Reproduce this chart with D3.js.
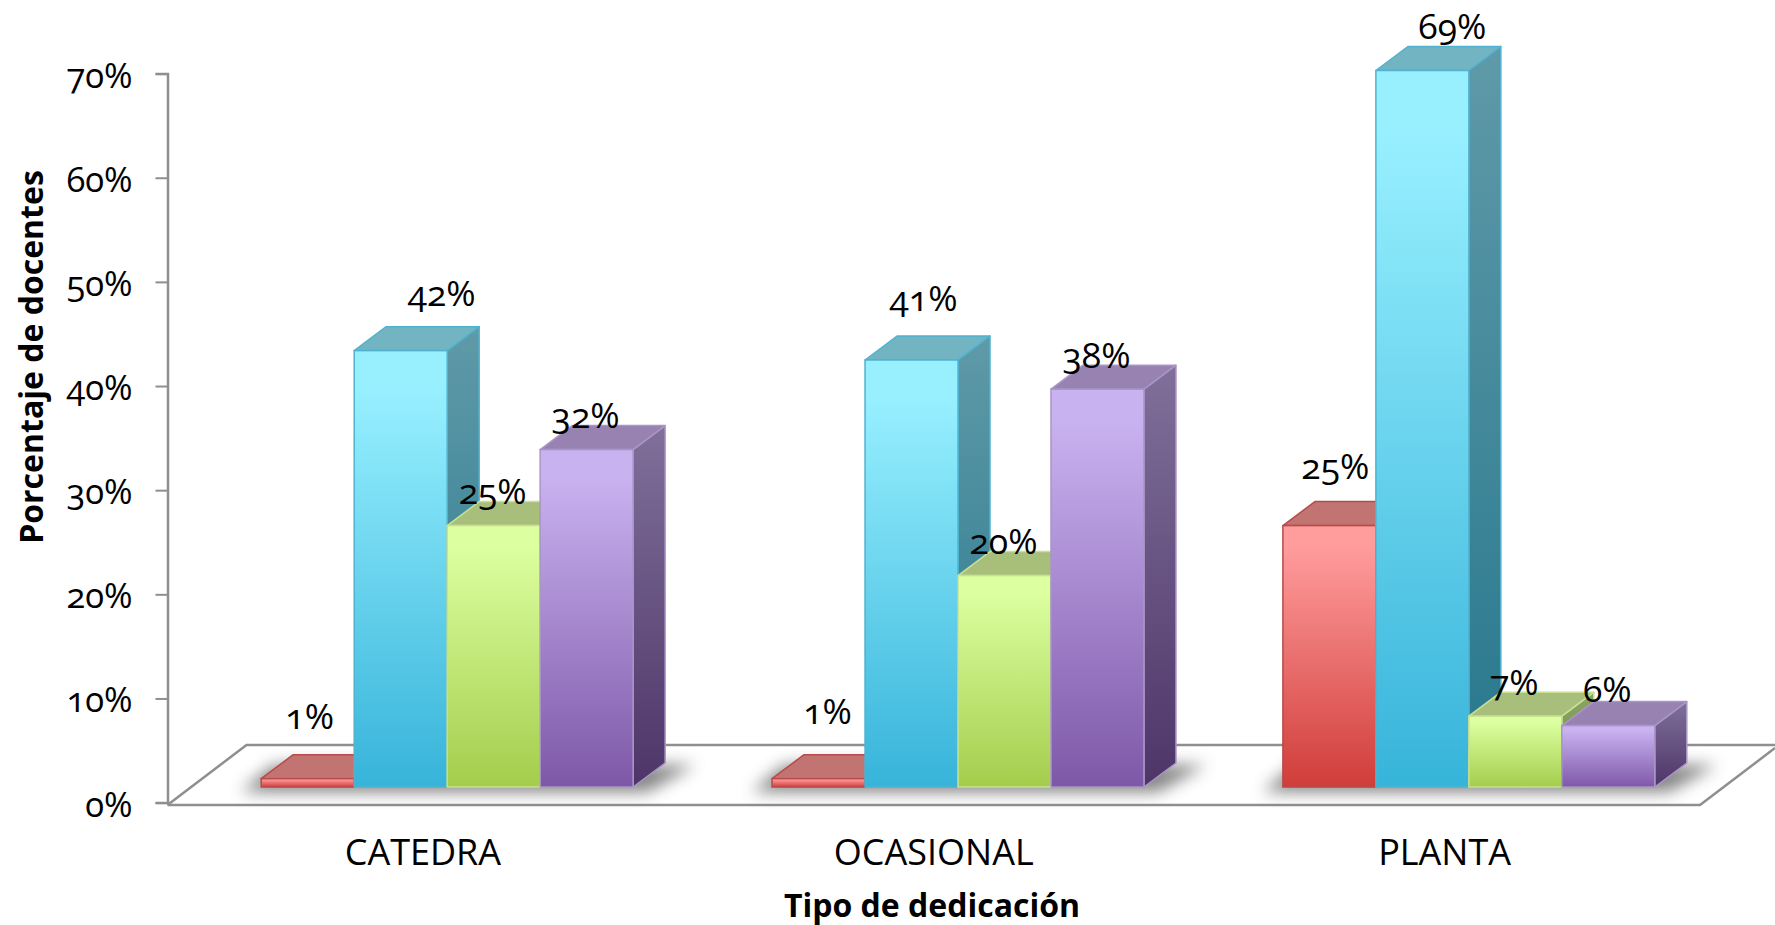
<!DOCTYPE html>
<html><head><meta charset="utf-8">
<script src="https://cdn.jsdelivr.net/npm/d3@7"></script>
<style>
html,body{margin:0;padding:0;background:#fff;overflow:hidden}
text{font-family:"Open Sans",sans-serif;font-variant-numeric:oldstyle-nums;font-feature-settings:"onum";fill:#000}
</style></head><body><svg id="c" width="1775" height="925"></svg>
<script>
const categories = ["CATEDRA","OCASIONAL","PLANTA"];
const seriesNames = ["s1","s2","s3","s4"];
// bar heights; labels show them rounded
const s1 = [0.8,0.8,25.1];
const s2 = [41.9,41,68.8];
const s3 = [25.1,20.3,6.8];
const s4 = [32.4,38.2,5.9];
const seriesValues = [s1,s2,s3,s4];
const yTicks = [0,10,20,30,40,50,60,70];

// colours: [front top, front bottom, stroke, top face, side top, side bottom]
const palette = [
 ["#ff9c9c","#d03d3a","#b84a48","#c27473","#a85654","#7d2c2a"],
 ["#98f0ff","#37b4da","#4fb3d0","#72b4c2","#5f9aa8","#27778d"],
 ["#dcffa0","#a4cd4c","#c8e094","#a7bf7a","#8ba566","#6f8a45"],
 ["#c9b2f0","#7e58a8","#a995c6","#9882b1","#80709a","#4e3568"]
];
const M = {axisX:167.5, floorR:1700, y0:802.6, y70:73.6, floorFront:805, floorBack:745, floorDx:79, floorRightEnd:1775,
           barLift:15.6, depthX:32, depthY:24};
const labelOffsets = [ // nudges from the default label seat, per series then category
 [[3,-28],[10,-33],[7,-25]],
 [[42,-23],[13,-28],[31,-10]],
 [[0,0],[0,0],[0,0]],
 [[0,0],[0,0],[0,-2]]
];

const svg = d3.select("#c");
const defs = svg.append("defs");
const y = d3.scaleLinear().domain([0,70]).range([M.y0,M.y70]);
const x0 = d3.scaleBand().domain(categories).range([M.axisX,M.floorR]);
const groupW = x0.bandwidth();
const x1 = d3.scaleBand().domain(seriesNames).range([groupW*0.1835,groupW*0.9115]);
const barW = x1.bandwidth();
const barY = v => y(v)-M.barLift;

palette.forEach((p,i)=>{
  const f = defs.append("linearGradient").attr("id","f"+i).attr("x1",0).attr("y1",0).attr("x2",0).attr("y2",1);
  f.append("stop").attr("offset","0").attr("stop-color",p[0]);
  f.append("stop").attr("offset","0.08").attr("stop-color",p[0]);
  f.append("stop").attr("offset","1").attr("stop-color",p[1]);
  const s = defs.append("linearGradient").attr("id","s"+i).attr("x1",0).attr("y1",0).attr("x2",0).attr("y2",1);
  s.append("stop").attr("offset","0").attr("stop-color",p[4]);
  s.append("stop").attr("offset","1").attr("stop-color",p[5]);
});
defs.append("filter").attr("id","blur").attr("x","-10%").attr("y","-100%").attr("width","120%").attr("height","300%")
  .append("feGaussianBlur").attr("stdDeviation",8);

// floor
const floor = svg.append("g").attr("fill","none").attr("stroke","#8f8f8f").attr("stroke-width",2.5);
floor.append("path").attr("d",d3.line()([
  [M.axisX,M.floorFront],[M.floorR,M.floorFront],[M.floorRightEnd,M.floorFront-(M.floorRightEnd-M.floorR)*60/M.floorDx]]));
floor.append("path").attr("d",d3.line()([
  [M.axisX,M.floorFront],[M.axisX+M.floorDx,M.floorBack],[M.floorRightEnd,M.floorBack]]));

// axes
const axis = svg.append("g").attr("transform",`translate(${M.axisX},0)`)
  .call(d3.axisLeft(y).tickValues(yTicks).tickFormat(d=>d+"%").tickSize(12).tickPadding(23));
axis.select(".domain").attr("stroke","#8f8f8f").attr("stroke-width",2.5);
axis.selectAll(".tick line").attr("stroke","#8f8f8f").attr("stroke-width",2);
axis.selectAll("text").attr("font-size",34.5).attr("font-weight",400).attr("dy","0.39em").style("font-family",'"Open Sans",sans-serif');

const xAxisG = svg.append("g").attr("transform",`translate(0,${M.floorFront})`)
  .call(d3.axisBottom(x0).tickSize(0).tickPadding(30));
xAxisG.select(".domain").remove();
xAxisG.selectAll("text").attr("font-size",36).attr("font-weight",400).attr("dy","0.83em").style("font-family",'"Open Sans",sans-serif');

svg.append("text").attr("transform","translate(34,357) rotate(-90)").attr("text-anchor","middle").attr("dominant-baseline","middle")
  .attr("font-size",32).attr("font-weight",700).text("Porcentaje de docentes");
svg.append("text").attr("x",932).attr("y",908).attr("text-anchor","middle").attr("dominant-baseline","middle")
  .attr("font-size",32).attr("font-weight",700).text("Tipo de dedicación");

// shadows
categories.forEach((c)=>{
  const gx = x0(c);
  const l = gx + x1("s1"), r = gx + x1("s4") + barW;
  const by = barY(0);
  svg.append("path").attr("filter","url(#blur)").attr("fill","#6e6e6e").attr("opacity",0.85)
    .attr("d",d3.line()([[l-20,by+5],[r+14,by+5],[r+M.depthX+30,by-M.depthY+2],[l+M.depthX-20,by-M.depthY+2]])+"Z");
});

// bars
categories.forEach((c,ci)=>{
  const g = svg.append("g");
  seriesNames.forEach((s,si)=>{
    const v = seriesValues[si][ci], p = palette[si];
    const X = x0(c)+x1(s), Y = barY(v), B = barY(0), W = barW, dx = M.depthX, dy = M.depthY;
    g.append("path").attr("fill",`url(#s${si})`).attr("stroke",p[2]).attr("stroke-width",1.5).attr("stroke-linejoin","round")
      .attr("d",d3.line()([[X+W,Y],[X+W+dx,Y-dy],[X+W+dx,B-dy],[X+W,B]])+"Z");
    g.append("path").attr("fill",p[3]).attr("stroke",p[2]).attr("stroke-width",1.5).attr("stroke-linejoin","round")
      .attr("d",d3.line()([[X,Y],[X+dx,Y-dy],[X+W+dx,Y-dy],[X+W,Y]])+"Z");
    g.append("rect").attr("x",X).attr("y",Y).attr("width",W).attr("height",B-Y)
      .attr("fill",`url(#f${si})`).attr("stroke",p[2]).attr("stroke-width",1.5);
  });
});

// labels
categories.forEach((c,ci)=>{
  seriesNames.forEach((s,si)=>{
    const v = seriesValues[si][ci], o = labelOffsets[si][ci];
    svg.append("text").attr("text-anchor","middle").attr("dominant-baseline","middle").attr("font-size",35.5).attr("font-weight",400)
      .attr("x",x0(c)+x1(s)+barW/2-1+o[0]).attr("y",barY(v)-31+o[1]).text(Math.round(v)+"%");
  });
});
</script></body></html>
